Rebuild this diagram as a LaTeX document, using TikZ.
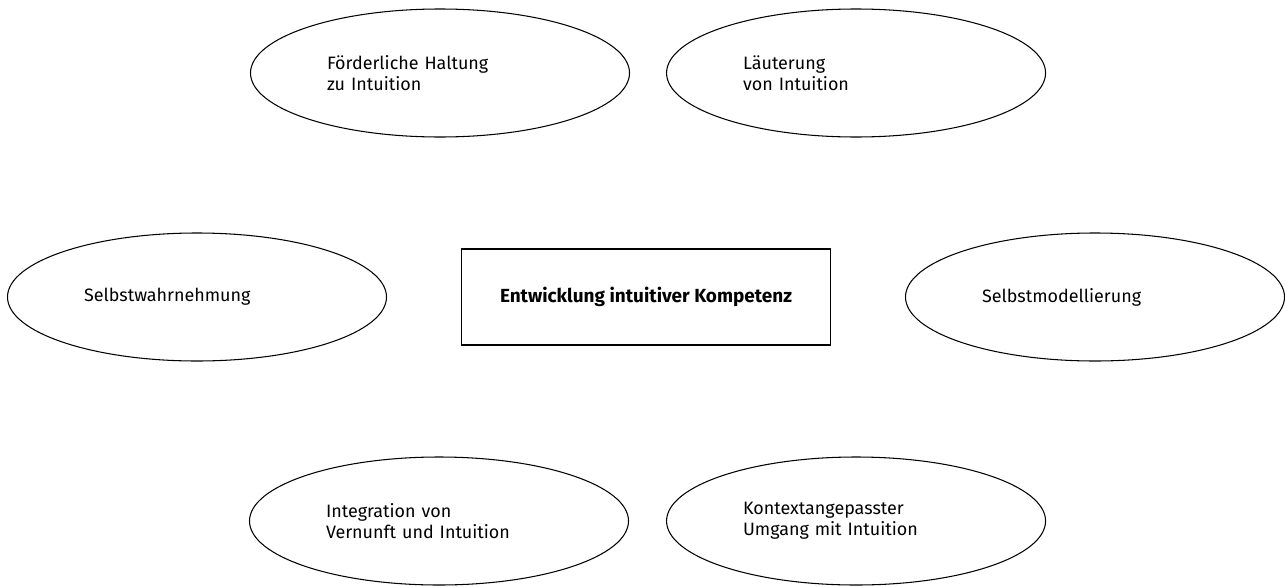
\documentclass[tikz,border=0pt]{standalone}
\usepackage{fontspec}
\setmainfont{Fira Sans}
\usepackage{tikz}
\usetikzlibrary{positioning,shapes}

\begin{document}
\begin{tikzpicture}
    \tikzstyle{fnode} = [draw, ellipse, line width=0.6pt, inner sep=0pt, minimum width=7.58cm, minimum height=2.56cm, text width=4.52cm, align=left, font=\fontsize{10.2}{12}\selectfont]
    \tikzstyle{knode} = [draw, rectangle, line width=0.9pt, minimum width=7.38cm, minimum height=1.92cm, font=\fontsize{10.8}{13}\selectfont\bfseries]

    \useasboundingbox (0,0) rectangle (25.7,-11.72);

    \node[knode] (kompetenz) at (12.92,-5.94) {Entwicklung intuitiver Kompetenz};

    \node[fnode] (haltung) at (8.8,-1.46) {F\"orderliche Haltung\\zu Intuition};
    \node[fnode, right=0.72cm of haltung] (laeuterung) {L\"auterung\\von Intuition};

    \node[fnode] (wahrnehmung) at (3.94,-5.94) {Selbstwahrnehmung};
    \node[fnode] (modellierung) at (21.9,-5.94) {Selbstmodellierung};

    \node[fnode] (integration) at (8.78,-10.42) {Integration von\\Vernunft und Intuition};
    \node[fnode, right=0.74cm of integration] (kontext) {Kontextangepasster\\Umgang mit Intuition};

  \end{tikzpicture}
\end{document}
